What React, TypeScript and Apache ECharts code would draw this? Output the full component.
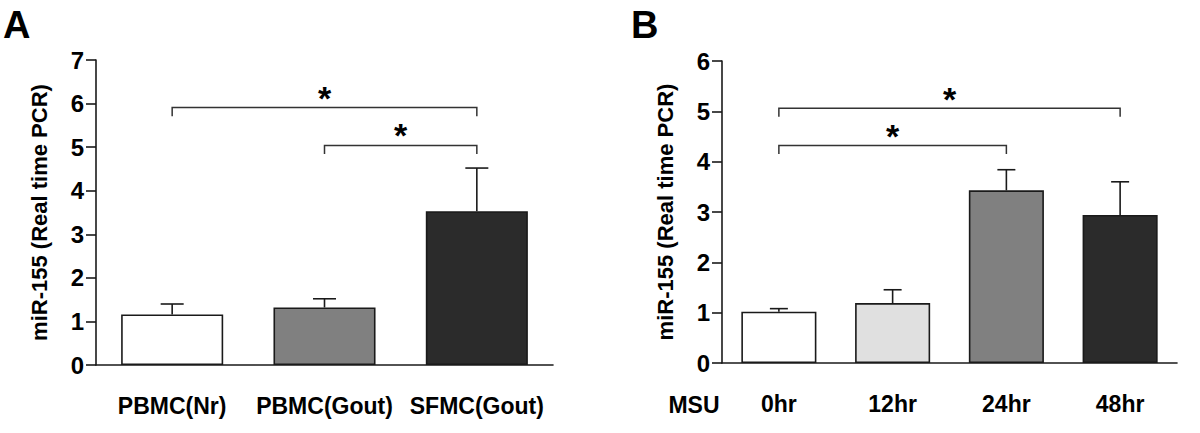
import React, { useEffect, useRef } from "react";
import * as echarts from "echarts";

const FONT = 'Arial, "Liberation Sans", Helvetica, sans-serif';

// Panel A
const catsA = ["PBMC(Nr)", "PBMC(Gout)", "SFMC(Gout)"];
const valsA = [1.16, 1.32, 3.53];
const errA = [1.4, 1.52, 4.52];
const colorsA = ["#ffffff", "#808080", "#2b2b2b"];
// [fromCat, toCat, barY, dropY]
const bracketsA = [
  [0, 2, 5.91, 5.71],
  [1, 2, 5.04, 4.84],
];
const starsA = [6.29, 5.43];

// Panel B
const catsB = ["0hr", "12hr", "24hr", "48hr"];
const valsB = [1.02, 1.19, 3.43, 2.94];
const errB = [1.08, 1.455, 3.84, 3.6];
const colorsB = ["#ffffff", "#e0e0e0", "#808080", "#2b2b2b"];
const bracketsB = [
  [0, 3, 5.06, 4.89],
  [0, 2, 4.32, 4.15],
];
const starsB = [5.39, 4.64];

const yTitle = "miR-155 (Real time PCR)";

function errSeries(xi: number, vals: number[], errs: number[], cap: number) {
  return {
    type: "custom",
    xAxisIndex: xi,
    yAxisIndex: xi,
    clip: false,
    z: 1,
    data: vals.map((v, i) => [i, v, errs[i]]),
    renderItem: (params: any, api: any) => {
      const i = api.value(0);
      const p0 = api.coord([i, api.value(1)]);
      const p1 = api.coord([i, api.value(2)]);
      const st = { stroke: "#1a1a1a", lineWidth: 1.6 };
      return {
        type: "group",
        children: [
          { type: "line", shape: { x1: p0[0], y1: p0[1], x2: p1[0], y2: p1[1] }, style: st },
          { type: "line", shape: { x1: p1[0] - cap / 2, y1: p1[1], x2: p1[0] + cap / 2, y2: p1[1] }, style: st },
        ],
      };
    },
  };
}

function bracketSeries(xi: number, brackets: number[][], stars: number[]) {
  return {
    type: "custom",
    xAxisIndex: xi,
    yAxisIndex: xi,
    clip: false,
    z: 3,
    data: brackets.map((b, k) => [b[0], b[1], b[2], b[3], stars[k]]),
    renderItem: (params: any, api: any) => {
      const a = api.value(0);
      const b = api.value(1);
      const yTop = api.value(2);
      const yDrop = api.value(3);
      const pA0 = api.coord([a, yDrop]);
      const pA1 = api.coord([a, yTop]);
      const pB1 = api.coord([b, yTop]);
      const pB0 = api.coord([b, yDrop]);
      const sy = api.coord([a, api.value(4)])[1];
      return {
        type: "group",
        children: [
          {
            type: "polyline",
            shape: { points: [pA0, pA1, pB1, pB0] },
            style: { stroke: "#333", lineWidth: 1.5, fill: null },
          },
          {
            type: "text",
            style: {
              text: "*",
              x: (pA1[0] + pB1[0]) / 2,
              y: sy + 7,
              align: "center",
              verticalAlign: "middle",
              fontSize: 34,
              fontWeight: "bold",
              fontFamily: FONT,
              fill: "#000",
            },
          },
        ],
      };
    },
  };
}

function xAxis(gi: number, cats: string[]) {
  return {
    type: "category",
    gridIndex: gi,
    data: cats,
    boundaryGap: true,
    axisLine: { lineStyle: { color: "#1a1a1a", width: 1.6 } },
    axisTick: { alignWithLabel: true, length: 8, lineStyle: { color: "#1a1a1a", width: 1.6 } },
    axisLabel: { interval: 0, color: "#000", fontSize: 23, fontWeight: "bold", fontFamily: FONT, margin: 29 },
  };
}

function yAxis(gi: number, max: number) {
  return {
    type: "value",
    gridIndex: gi,
    min: 0,
    max,
    interval: 1,
    name: yTitle,
    nameLocation: "middle",
    nameGap: 46,
    nameRotate: 90,
    nameTextStyle: { color: "#000", fontSize: 22, fontWeight: "bold", fontFamily: FONT },
    splitLine: { show: false },
    axisLine: { show: true, lineStyle: { color: "#1a1a1a", width: 1.6 } },
    axisTick: { show: true, length: 10, lineStyle: { color: "#1a1a1a", width: 1.6 } },
    axisLabel: { color: "#000", fontSize: 24, fontWeight: "bold", fontFamily: FONT, margin: 12 },
  };
}

export default function App() {
  const ref = useRef<HTMLDivElement>(null);
  useEffect(() => {
    const chart = echarts.init(ref.current!, null, { renderer: "svg" });
    chart.setOption({
      animation: false,
      backgroundColor: "#ffffff",
      grid: [
        { left: 96, right: 647, top: 60, bottom: 68 },
        { left: 722, right: 23, top: 61, bottom: 70 },
      ],
      xAxis: [xAxis(0, catsA), xAxis(1, catsB)],
      yAxis: [yAxis(0, 7), yAxis(1, 6)],
      graphic: [
        { type: "text", left: 3, top: 6, style: { text: "A", fontSize: 38, fontWeight: "bold", fontFamily: FONT, fill: "#000" } },
        { type: "text", left: 631, top: 6, style: { text: "B", fontSize: 38, fontWeight: "bold", fontFamily: FONT, fill: "#000" } },
        {
          type: "text",
          x: 694,
          y: 405,
          style: { text: "MSU", align: "center", verticalAlign: "middle", fontSize: 23, fontWeight: "bold", fontFamily: FONT, fill: "#000" },
        },
      ],
      series: [
        {
          type: "bar",
          xAxisIndex: 0,
          yAxisIndex: 0,
          barWidth: "67%",
          z: 2,
          data: valsA.map((v, i) => ({
            value: v,
            itemStyle: { color: colorsA[i], borderColor: "#1a1a1a", borderWidth: 1.6 },
          })),
        },
        errSeries(0, valsA, errA, 23),
        bracketSeries(0, bracketsA, starsA),
        {
          type: "bar",
          xAxisIndex: 1,
          yAxisIndex: 1,
          barWidth: "66%",
          z: 2,
          data: valsB.map((v, i) => ({
            value: v,
            itemStyle: { color: colorsB[i], borderColor: "#1a1a1a", borderWidth: 1.6 },
          })),
        },
        errSeries(1, valsB, errB, 18),
        bracketSeries(1, bracketsB, starsB),
      ],
    });
    return () => chart.dispose();
  }, []);
  return (
    <div
      ref={ref}
      style={{ position: "fixed", left: 0, top: 0, width: 1200, height: 433, background: "#fff" }}
    />
  );
}
